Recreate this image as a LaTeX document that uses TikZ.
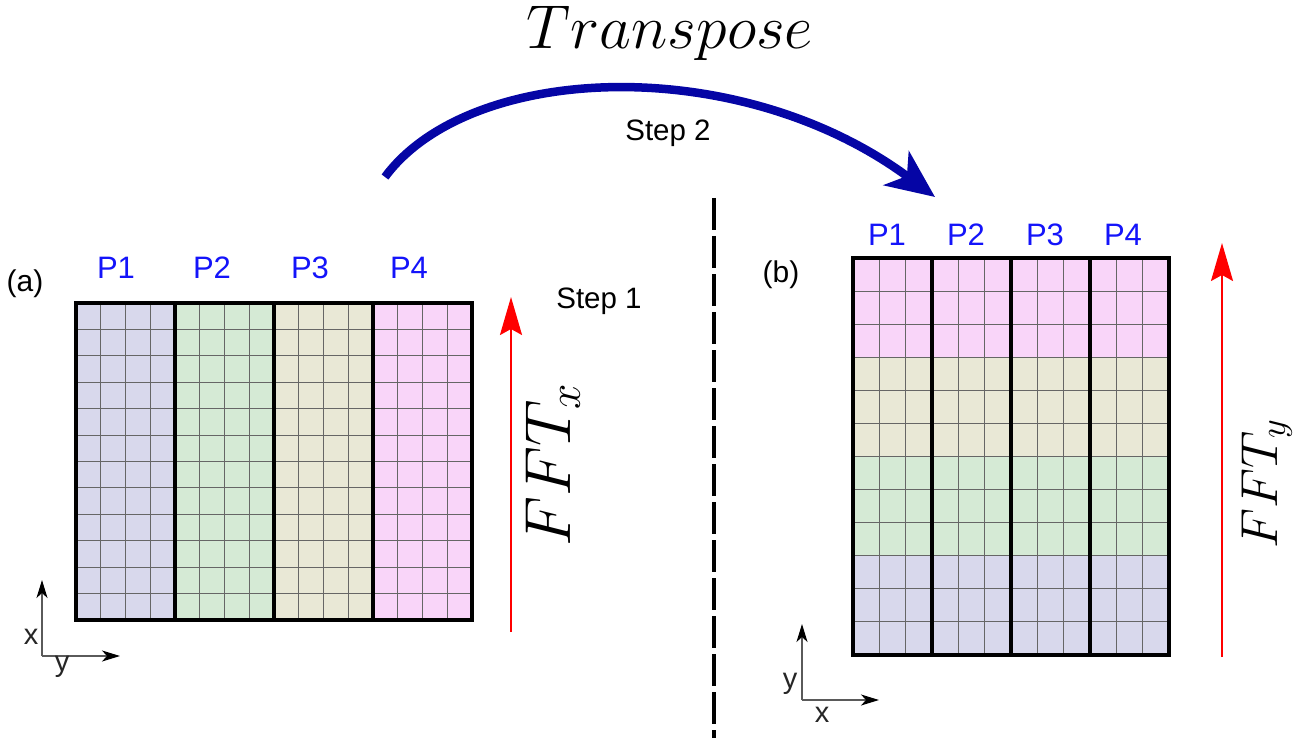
\RequirePackage{fix-cm}
\documentclass[tikz,border=0pt]{standalone}
\usepackage{fontspec}
\setmainfont{Liberation Sans}
\usetikzlibrary{arrows.meta}
\definecolor{cpur}{RGB}{216,216,236}
\definecolor{cgre}{RGB}{213,234,213}
\definecolor{ctan}{RGB}{233,232,214}
\definecolor{cpin}{RGB}{249,213,249}
\definecolor{pblue}{RGB}{20,20,250}
\definecolor{tblue}{RGB}{5,5,165}
\definecolor{axgray}{RGB}{90,90,90}
\begin{document}
\begin{tikzpicture}[x=1pt,y=-1pt,
  gridthin/.style={draw=black!60,line width=1.1pt},
  gridthick/.style={draw=black,line width=3.4pt},
  plabel/.style={text=pblue,font=\fontsize{31}{31}\selectfont,anchor=base,inner sep=0pt},
  panlabel/.style={text=black,font=\fontsize{30}{30}\selectfont,anchor=base,inner sep=0pt},
  steplabel/.style={text=black,font=\fontsize{29.5}{29.5}\selectfont,anchor=base,inner sep=0pt},
  axlabel/.style={text=black!85,font=\fontsize{29}{29}\selectfont,inner sep=0pt},
  axisline/.style={draw=axgray,line width=1.5pt,-{Stealth[length=18pt,width=11pt,inset=5pt,color=black]}},
  fftarrow/.style={draw=red,line width=2pt,-{Stealth[length=38pt,width=22pt,inset=6pt]}}
]
\useasboundingbox (0,0) rectangle (1301,738);

% ---------- left grid (a) ----------
\fill[cpur] (76,303) rectangle (175,620);
\fill[cgre] (175,303) rectangle (274,620);
\fill[ctan] (274,303) rectangle (373,620);
\fill[cpin] (373,303) rectangle (472,620);
\foreach \i in {1,...,15} \draw[gridthin] ({76+\i*24.75},303) -- ({76+\i*24.75},620);
\foreach \j in {1,...,11} \draw[gridthin] (76,{303+\j*26.4167}) -- (472,{303+\j*26.4167});
\foreach \xx in {175,274,373} \draw[gridthick] (\xx,303) -- (\xx,620);
\draw[gridthick] (76,303) rectangle (472,620);

\node[plabel] (lp1) at (116,278) {P1};
\node[plabel] (lp2) at (212,278) {P2};
\node[plabel] (lp3) at (310,278) {P3};
\node[plabel] (lp4) at (409,278) {P4};
\node[panlabel] (la) at (25,291) {(a)};
\node[steplabel] (s1) at (599,308) {Step 1};

% ---------- right grid (b) ----------
\fill[cpin] (853,258) rectangle (1169,357.25);
\fill[ctan] (853,357.25) rectangle (1169,456.5);
\fill[cgre] (853,456.5) rectangle (1169,555.75);
\fill[cpur] (853,555.75) rectangle (1169,655);
\foreach \i in {1,...,11} \draw[gridthin] ({853+\i*26.3333},258) -- ({853+\i*26.3333},655);
\foreach \j in {1,...,11} \draw[gridthin] (853,{258+\j*33.0833}) -- (1169,{258+\j*33.0833});
\foreach \xx in {932,1011,1090} \draw[gridthick] (\xx,258) -- (\xx,655);
\draw[gridthick] (853,258) rectangle (1169,655);

\node[plabel] (rp1) at (887,245) {P1};
\node[plabel] (rp2) at (966,245) {P2};
\node[plabel] (rp3) at (1045,245) {P3};
\node[plabel] (rp4) at (1123,245) {P4};
\node[panlabel] (lb) at (781,282) {(b)};

% ---------- dashed separator ----------
\coordinate (dtop) at (714,198);
\coordinate (dbot) at (714,738);
\draw[line width=4pt,dash pattern=on 32pt off 6pt] (dtop) -- (dbot);

% ---------- FFT arrows ----------
\coordinate (fxa) at (511,632);
\coordinate (fxb) at (511,297);
\draw[fftarrow] (fxa) -- (fxb);
\node[rotate=90,anchor=base,inner sep=0pt,font=\fontsize{65}{65}\selectfont] (fftx) at (570,465) {$FFT_x$};

\coordinate (fya) at (1222,657);
\coordinate (fyb) at (1222,243);
\draw[fftarrow] (fya) -- (fyb);
\node[rotate=90,anchor=base,inner sep=0pt,font=\fontsize{52}{52}\selectfont] (ffty) at (1277,484) {$FFT_y$};

% ---------- transpose arrow ----------
\coordinate (ta) at (385,177);
\coordinate (tb) at (935,197);
\draw[tblue,line width=8.5pt,-{Stealth[length=48pt,width=42pt,inset=13pt]}]
  (ta) .. controls (470,62) and (740,52) .. (tb);
\node[anchor=base,inner sep=0pt,font=\fontsize{62}{62}\selectfont] (tr) at (670,49) {$Transpose$};
\node[steplabel] (s2) at (668,141) {Step 2};

% ---------- axes ----------
\coordinate (lo) at (42,656);
\coordinate (lx) at (42,580);
\coordinate (ly) at (120,656);
\draw[axisline] (lo) -- (lx);
\draw[axisline] (lo) -- (ly);
\node[axlabel] (lxl) at (31,637) {x};
\node[axlabel] (lyl) at (62,667) {y};

\coordinate (ro) at (802,700);
\coordinate (ry) at (802,624);
\coordinate (rx) at (879,700);
\draw[axisline] (ro) -- (ry);
\draw[axisline] (ro) -- (rx);
\node[axlabel] (ryl) at (790,684) {y};
\node[axlabel] (rxl) at (822,715) {x};
\end{tikzpicture}
\end{document}
